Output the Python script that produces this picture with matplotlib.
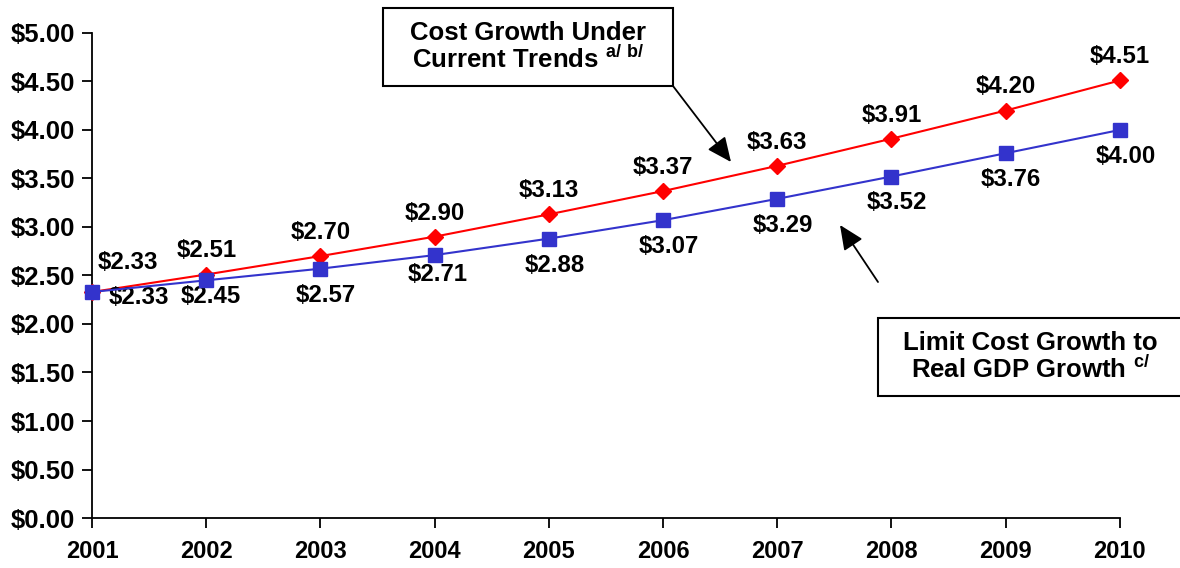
import numpy as np
import matplotlib.pyplot as plt
from matplotlib.patches import Rectangle

plt.rcParams['font.family'] = ['Liberation Sans', 'DejaVu Sans']
plt.rcParams['font.weight'] = 'bold'

# data
years = [2001, 2002, 2003, 2004, 2005, 2006, 2007, 2008, 2009, 2010]
current_trends = [2.33, 2.51, 2.70, 2.90, 3.13, 3.37, 3.63, 3.91, 4.20, 4.51]
gdp_growth = [2.33, 2.45, 2.57, 2.71, 2.88, 3.07, 3.29, 3.52, 3.76, 4.00]
y_ticks = np.arange(0, 5.01, 0.5)

W, H = 1180, 568
LFS = 17.3  # data label size

fig = plt.figure(figsize=(11.8, 5.68), dpi=100)
ax = fig.add_axes([0.078, 0.088, 0.871, 0.854])

ax.plot(years, current_trends, color='#ff0000', lw=1.5, marker='D', ms=8.5,
        markerfacecolor='#ff0000', markeredgecolor='#ff0000', zorder=3, clip_on=False)
ax.plot(years, gdp_growth, color='#3333cc', lw=1.5, marker='s', ms=9.5,
        markerfacecolor='#3333cc', markeredgecolor='#3333cc', zorder=4, clip_on=False)

ax.set_xlim(2001, 2010)
ax.set_ylim(0, 5)
ax.set_xticks(years)
ax.set_yticks(y_ticks)
ax.set_yticklabels(['${:.2f}'.format(v) for v in y_ticks])
ax.tick_params(axis='both', length=7, width=1.3, direction='out')
ax.tick_params(axis='x', labelsize=17, pad=9)
ax.tick_params(axis='y', labelsize=18.5, pad=5)
for lab in ax.get_xticklabels() + ax.get_yticklabels():
    lab.set_fontweight('bold')
for s in ['top', 'right']:
    ax.spines[s].set_visible(False)
ax.spines['left'].set_linewidth(1.3)
ax.spines['bottom'].set_linewidth(1.3)

# value labels
for i, (x, y) in enumerate(zip(years, current_trends)):
    off = (26, 21) if i == 0 else (0, 17)
    ax.annotate('${:.2f}'.format(y), (x, y), xytext=off, textcoords='offset points',
                ha='center', va='center', fontsize=LFS, fontweight='bold',
                annotation_clip=False)
for i, (x, y) in enumerate(zip(years, gdp_growth)):
    if i == 0:
        off = (34, -4)
    elif i == 1:
        off = (3, -12)
    elif i == 3:
        off = (2, -14)
    else:
        off = (4, -19)
    ax.annotate('${:.2f}'.format(y), (x, y), xytext=off, textcoords='offset points',
                ha='center', va='center', fontsize=LFS, fontweight='bold',
                annotation_clip=False)

# callout boxes
fig.patches.append(Rectangle((383 / W, 1 - 86 / H), 290 / W, 78 / H, transform=fig.transFigure,
                             fc='white', ec='black', lw=1.5, zorder=5))
fig.text(528 / W, 1 - 47 / H,
         'Cost Growth Under\nCurrent Trends $^{\\mathregular{a/\\ b/}}$',
         ha='center', va='center', fontsize=18.5, fontweight='bold', linespacing=1.05,
         zorder=6)
fig.patches.append(Rectangle((878 / W, 1 - 396 / H), 320 / W, 78 / H, transform=fig.transFigure,
                             fc='white', ec='black', lw=1.5, zorder=5))
fig.text(1030 / W, 1 - 357 / H,
         'Limit Cost Growth to\nReal GDP Growth $^{\\mathregular{c/}}$',
         ha='center', va='center', fontsize=18.5, fontweight='bold', linespacing=1.05,
         zorder=6)

# arrows
astyle = dict(arrowstyle='-|>,head_length=0.6,head_width=0.27', color='black', lw=1.3,
              mutation_scale=25, shrinkA=0, shrinkB=0)
ax.annotate('', xy=(731 / W, 1 - 162 / H), xytext=(673 / W, 1 - 86 / H),
            xycoords='figure fraction', textcoords='figure fraction', arrowprops=astyle)
ax.annotate('', xy=(840 / W, 1 - 225 / H), xytext=(878 / W, 1 - 282 / H),
            xycoords='figure fraction', textcoords='figure fraction', arrowprops=astyle)

fig.savefig('out.png', dpi=100)
